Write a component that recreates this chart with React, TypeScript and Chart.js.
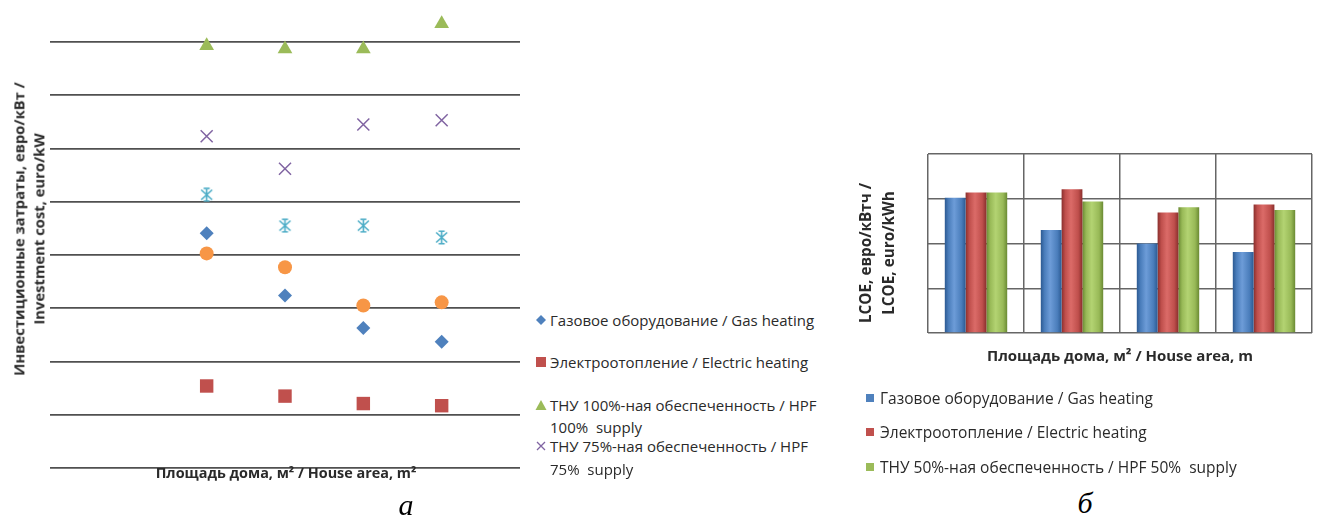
import React, { useEffect, useRef } from 'react';
import { Chart, registerables } from 'chart.js';

Chart.register(...registerables);

// ---------- Chart a: investment cost (scatter) ----------
const houseAreaSlots = [1, 2, 3, 4];
const gasInvest = [4.41, 3.24, 2.63, 2.37];
const electricInvest = [1.54, 1.35, 1.21, 1.17];
const hpf100Invest = [7.93, 7.87, 7.87, 8.34];
const hpf75Invest = [6.23, 5.62, 6.45, 6.53];
const hpf50Invest = [5.13, 4.55, 4.55, 4.33];
const extraInvest = [4.03, 3.77, 3.05, 3.11];
const investMin = 0;
const investMax = 8.6;
const investStep = 1;
const slotMin = -1;
const slotMax = 5;

// ---------- Chart б: LCOE (bars) ----------
const lcoeCategories = ['1', '2', '3', '4'];
const gasLcoe = [3.02, 2.3, 2.0, 1.81];
const electricLcoe = [3.14, 3.21, 2.69, 2.87];
const hpf50Lcoe = [3.14, 2.94, 2.81, 2.75];
const lcoeMin = 0;
const lcoeMax = 4;
const lcoeStep = 1;

// ---------- Texts ----------
const legendA = [
  ['Газовое оборудование / Gas heating'],
  ['Электроотопление / Electric heating'],
  ['ТНУ 100%-ная обеспеченность / HPF', '100%  supply'],
  ['ТНУ 75%-ная обеспеченность / HPF', '75%  supply'],
];
const legendB = [
  'Газовое оборудование / Gas heating',
  'Электроотопление / Electric heating',
  'ТНУ 50%-ная обеспеченность / HPF 50%  supply',
];
const yTitleA = ['Инвестиционные затраты, евро/кВт /', 'Investment cost, euro/kW'];
const xTitleA = 'Площадь дома, м² / House area, m²';
const yTitleB = ['LCOE, евро/кВтч /', 'LCOE, euro/kWh'];
const xTitleB = 'Площадь дома, м² / House area, m';

const BLUE = '#4F81BD';
const RED = '#C0504D';
const GREEN = '#9BBB59';
const PURPLE = '#8064A2';
const CYAN = '#4BACC6';
const ORANGE = '#F79646';

const barShades = [
  { dark: '#2c5a92', mid: '#4a7dbb', light: '#6d9cd8' },
  { dark: '#8a2f2d', mid: '#bf4f4c', light: '#db6b68' },
  { dark: '#6a8a33', mid: '#98b957', light: '#b3d372' },
];

const FONT = "'Open Sans', sans-serif";
const TEXT = '#2a2a2a';

function makeStar(color: string) {
  const c = document.createElement('canvas');
  c.width = 15;
  c.height = 15;
  const g = c.getContext('2d')!;
  g.strokeStyle = color;
  g.lineWidth = 1.6;
  g.beginPath();
  g.moveTo(2, 2.5);
  g.lineTo(13, 12.5);
  g.moveTo(13, 2.5);
  g.lineTo(2, 12.5);
  g.moveTo(7.5, 1);
  g.lineTo(7.5, 14);
  g.moveTo(4.5, 1.2);
  g.lineTo(10.5, 1.2);
  g.moveTo(4.5, 13.8);
  g.lineTo(10.5, 13.8);
  g.stroke();
  return c;
}

const CAT_PCT = 0.65;

function barFill(ds: number) {
  return (ctx: any) => {
    const shade = barShades[ds];
    const chart = ctx.chart;
    const xs = chart.scales && chart.scales.x;
    if (!xs || ctx.type !== 'data' || !xs.width) return shade.mid;
    const n = chart.data.labels.length;
    const cat = xs.width / n;
    const group = cat * CAT_PCT;
    const bw = group / 3;
    const center = xs.getPixelForValue(ctx.dataIndex);
    const left = center - group / 2 + ds * bw;
    const g = chart.ctx.createLinearGradient(left, 0, left + bw, 0);
    g.addColorStop(0, shade.dark);
    g.addColorStop(0.18, shade.mid);
    g.addColorStop(0.45, shade.light);
    g.addColorStop(0.8, shade.mid);
    g.addColorStop(1, shade.dark);
    return g;
  };
}

const abs = (extra: React.CSSProperties): React.CSSProperties => ({ position: 'absolute', ...extra });

function LegendMarkA({ i }: { i: number }) {
  if (i === 0)
    return (
      <svg width="11" height="11"><polygon points="5.5,0.5 10.5,5.5 5.5,10.5 0.5,5.5" fill={BLUE} /></svg>
    );
  if (i === 1)
    return (
      <svg width="11" height="11"><rect x="0.5" y="0.5" width="10" height="10" fill={RED} /></svg>
    );
  if (i === 2)
    return (
      <svg width="12" height="11"><polygon points="6,0.5 11.5,10.5 0.5,10.5" fill={GREEN} /></svg>
    );
  return (
    <svg width="10" height="10">
      <path d="M1,1 L9,9 M9,1 L1,9" stroke={PURPLE} strokeWidth="1.3" fill="none" />
    </svg>
  );
}

export default function App() {
  const refA = useRef<HTMLCanvasElement>(null);
  const refB = useRef<HTMLCanvasElement>(null);

  useEffect(() => {
    const star = makeStar(CYAN);
    const pts = (vals: number[]) => vals.map((v, i) => ({ x: houseAreaSlots[i], y: v }));

    const chartA = new Chart(refA.current!, {
      type: 'scatter',
      data: {
        datasets: [
          { label: legendA[0][0], data: pts(gasInvest), pointStyle: 'rectRot', pointRadius: 7, backgroundColor: BLUE, borderWidth: 0 },
          { label: legendA[1][0], data: pts(electricInvest), pointStyle: 'rect', pointRadius: 9.5, backgroundColor: RED, borderWidth: 0 },
          { label: legendA[2].join(' '), data: pts(hpf100Invest), pointStyle: 'triangle', pointRadius: 8.5, backgroundColor: GREEN, borderWidth: 0 },
          { label: legendA[3].join(' '), data: pts(hpf75Invest), pointStyle: 'crossRot', pointRadius: 8.5, borderColor: PURPLE, borderWidth: 1.5 },
          { label: 'HPF 50%', data: pts(hpf50Invest), pointStyle: star as any, pointRadius: 7, borderWidth: 0 },
          { label: 'extra', data: pts(extraInvest), pointStyle: 'circle', pointRadius: 7, backgroundColor: ORANGE, borderWidth: 0 },
        ] as any,
      },
      options: {
        responsive: false,
        animation: false,
        layout: { padding: { left: 50, right: 8, top: 10, bottom: 48 } },
        plugins: { legend: { display: false }, tooltip: { enabled: false } },
        scales: {
          x: { type: 'linear', min: slotMin, max: slotMax, display: false },
          y: {
            type: 'linear',
            min: investMin,
            max: investMax,
            ticks: { display: false, stepSize: investStep, includeBounds: false },
            grid: { color: '#505050', lineWidth: 1.7, drawTicks: false },
            border: { display: false },
          },
        },
      },
    });

    const chartB = new Chart(refB.current!, {
      type: 'bar',
      data: {
        labels: lcoeCategories,
        datasets: [
          { label: legendB[0], data: gasLcoe, backgroundColor: barFill(0) as any },
          { label: legendB[1], data: electricLcoe, backgroundColor: barFill(1) as any },
          { label: legendB[2], data: hpf50Lcoe, backgroundColor: barFill(2) as any },
        ],
      },
      options: {
        responsive: false,
        animation: false,
        layout: { padding: { left: 88, right: 8, top: 14, bottom: 47 } },
        datasets: { bar: { categoryPercentage: CAT_PCT, barPercentage: 1 } },
        plugins: { legend: { display: false }, tooltip: { enabled: false } },
        scales: {
          x: {
            ticks: { display: false },
            grid: { color: '#666666', lineWidth: 1.5, drawTicks: false, offset: true },
            border: { display: false },
          },
          y: {
            min: lcoeMin,
            max: lcoeMax,
            ticks: { display: false, stepSize: lcoeStep },
            grid: { color: '#666666', lineWidth: 1.5, drawTicks: false },
            border: { display: false },
          },
        },
      },
    });

    return () => {
      chartA.destroy();
      chartB.destroy();
    };
  }, []);

  const rowsA = [[320], [362], [405, 427], [446, 469]];
  const rowsB = [398, 432, 467];

  return (
    <div
      style={{
        position: 'absolute',
        left: 0,
        top: 0,
        width: 1320,
        height: 516,
        background: '#ffffff',
        overflow: 'hidden',
        fontFamily: FONT,
        color: TEXT,
      }}
    >
      <canvas ref={refA} width={530} height={516} style={{ position: 'absolute', left: 0, top: 0 }} />
      <canvas ref={refB} width={480} height={240} style={{ position: 'absolute', left: 840, top: 140 }} />

      {/* chart a titles */}
      <div
        style={abs({
          left: 28.8,
          top: 229,
          transform: 'translate(-50%, -50%) rotate(-90deg)',
          whiteSpace: 'nowrap',
          textAlign: 'center',
          fontWeight: 700,
          fontSize: 14.8,
          lineHeight: '19.6px',
        })}
      >
        {yTitleA.map((t) => (
          <div key={t}>{t}</div>
        ))}
      </div>
      <div
        style={abs({
          left: 286,
          top: 473,
          transform: 'translate(-50%, -50%)',
          whiteSpace: 'nowrap',
          fontWeight: 700,
          fontSize: 14.4,
          lineHeight: '18px',
        })}
      >
        {xTitleA}
      </div>

      {/* chart a legend */}
      {legendA.map((lines, i) => (
        <React.Fragment key={i}>
          <div style={abs({ left: 541, top: rowsA[i][0], transform: 'translate(-50%, -50%)', lineHeight: 0 })}>
            <LegendMarkA i={i} />
          </div>
          {lines.map((t, j) => (
            <div
              key={j}
              style={abs({
                left: 550,
                top: rowsA[i][j],
                transform: 'translateY(-50%)',
                whiteSpace: 'pre',
                fontSize: 15,
                lineHeight: '20px',
              })}
            >
              {t}
            </div>
          ))}
        </React.Fragment>
      ))}

      <div
        style={abs({
          left: 406,
          top: 505,
          transform: 'translate(-50%, -50%)',
          fontFamily: "'Liberation Serif', serif",
          fontStyle: 'italic',
          fontSize: 30,
          lineHeight: '30px',
          color: '#000',
        })}
      >
        а
      </div>

      {/* chart б titles */}
      <div
        style={abs({
          left: 876.5,
          top: 253,
          transform: 'translate(-50%, -50%) rotate(-90deg)',
          whiteSpace: 'nowrap',
          textAlign: 'center',
          fontWeight: 700,
          fontSize: 15.3,
          lineHeight: '23px',
        })}
      >
        {yTitleB.map((t) => (
          <div key={t}>{t}</div>
        ))}
      </div>
      <div
        style={abs({
          left: 1120,
          top: 355,
          transform: 'translate(-50%, -50%)',
          whiteSpace: 'nowrap',
          fontWeight: 700,
          fontSize: 15,
          lineHeight: '18px',
        })}
      >
        {xTitleB}
      </div>

      {/* chart б legend */}
      {legendB.map((t, i) => (
        <React.Fragment key={i}>
          <div
            style={abs({
              left: 866,
              top: rowsB[i] - 4,
              width: 8,
              height: 8,
              background: [BLUE, RED, GREEN][i],
            })}
          />
          <div
            style={abs({
              left: 880,
              top: rowsB[i],
              transform: 'translateY(-50%)',
              whiteSpace: 'pre',
              fontSize: 15.5,
              lineHeight: '20px',
            })}
          >
            {t}
          </div>
        </React.Fragment>
      ))}

      <div
        style={abs({
          left: 1085,
          top: 503,
          transform: 'translate(-50%, -50%)',
          fontFamily: "'Liberation Serif', serif",
          fontStyle: 'italic',
          fontSize: 30,
          lineHeight: '30px',
          color: '#000',
        })}
      >
        б
      </div>
    </div>
  );
}
